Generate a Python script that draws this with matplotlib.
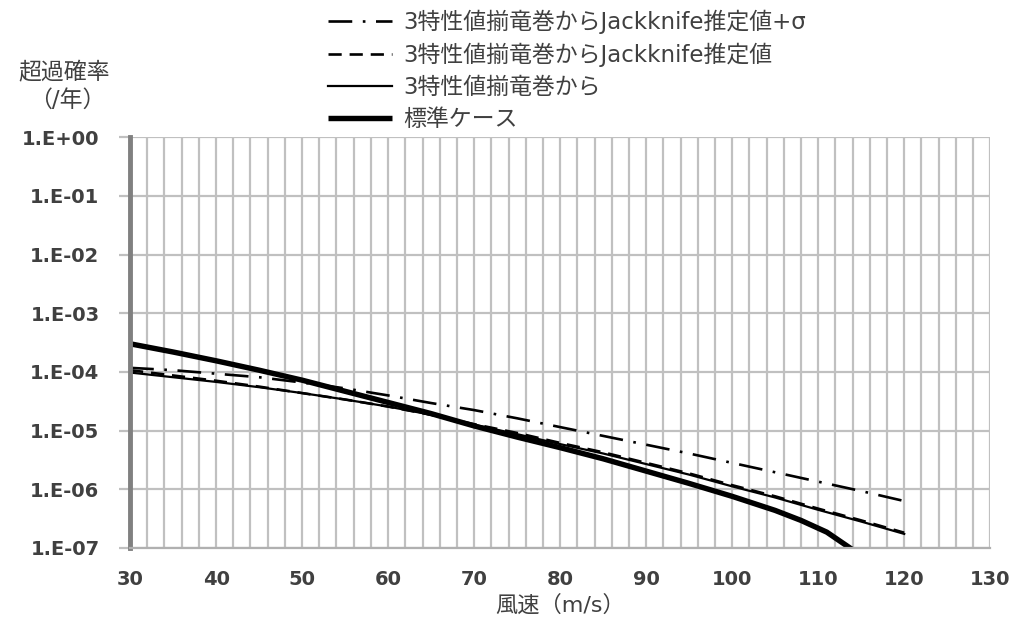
import matplotlib
matplotlib.use("Agg")
import matplotlib.pyplot as plt
import numpy as np

plt.rcParams['font.family'] = ['DejaVu Sans', 'Noto Sans CJK JP']

# wind speed (m/s)
speed_a = [30, 35, 40, 45, 50, 55, 60, 65, 70, 75, 80, 85, 90, 95, 100, 105, 110, 115, 120]
# log10 of exceedance probability
jk_sigma_log = [-3.93, -3.97, -4.03, -4.09, -4.18, -4.28, -4.40, -4.53, -4.65, -4.79,
                -4.94, -5.09, -5.24, -5.39, -5.55, -5.71, -5.87, -6.03, -6.20]
jk_log = [-3.97, -4.06, -4.15, -4.25, -4.36, -4.47, -4.59, -4.73, -4.89, -5.04,
          -5.21, -5.37, -5.55, -5.73, -5.93, -6.12, -6.33, -6.53, -6.74]
three_log = [-4.01, -4.09, -4.17, -4.26, -4.36, -4.47, -4.59, -4.73, -4.90, -5.06,
             -5.23, -5.39, -5.57, -5.75, -5.95, -6.14, -6.35, -6.55, -6.76]
speed_std = [30, 35, 40, 45, 50, 55, 60, 65, 70, 75, 80, 85, 90, 95, 100, 105, 108, 111, 114]
std_log = [-3.52, -3.66, -3.81, -3.97, -4.14, -4.33, -4.52, -4.71, -4.92, -5.11,
           -5.29, -5.48, -5.69, -5.90, -6.12, -6.36, -6.53, -6.73, -7.03]

labels = ["3特性値揃竜巻からJackknife推定値+σ",
          "3特性値揃竜巻からJackknife推定値",
          "3特性値揃竜巻から",
          "標準ケース"]
ytick_vals = [1e0, 1e-1, 1e-2, 1e-3, 1e-4, 1e-5, 1e-6, 1e-7]
ytick_labels = ["1.E+00", "1.E-01", "1.E-02", "1.E-03", "1.E-04", "1.E-05", "1.E-06", "1.E-07"]
xticks = [30, 40, 50, 60, 70, 80, 90, 100, 110, 120, 130]

fig = plt.figure(figsize=(10.24, 6.21), dpi=100)
ax = fig.add_axes([0.127, 0.1176, 0.840, 0.6614])

pw = lambda arr: [10 ** v for v in arr]
l1, = ax.plot(speed_a, pw(jk_sigma_log), color='black', lw=1.9, dashes=(9, 4, 1, 4))
l2, = ax.plot(speed_a, pw(jk_log), color='black', lw=1.9, dashes=(5, 3))
l3, = ax.plot(speed_a, pw(three_log), color='black', lw=1.6)
l4, = ax.plot(speed_std, pw(std_log), color='black', lw=3.9, solid_capstyle='butt')

ax.set_yscale('log')
ax.set_ylim(1e-7, 1)
ax.set_xlim(30, 130)
ax.set_yticks(ytick_vals)
ax.set_yticklabels(ytick_labels)
ax.minorticks_off()
ax.set_xticks(xticks)
ax.set_xticks(np.arange(30, 131, 2), minor=True)
ax.grid(True, which='minor', axis='x', color='#c0c0c0', lw=1.6)
ax.grid(True, which='major', axis='both', color='#c0c0c0', lw=1.6)
ax.set_axisbelow(True)
ax.tick_params(axis='x', which='both', length=0, labelsize=14, colors='#404040', pad=16)
ax.tick_params(axis='y', which='both', length=8, width=1.6, color='#c0c0c0',
               labelsize=14, labelcolor='#404040', pad=14)
for lab in ax.get_xticklabels() + ax.get_yticklabels():
    lab.set_fontweight('bold')
for s in ['top', 'right']:
    ax.spines[s].set_visible(False)
ax.spines['left'].set_color('#808080')
ax.spines['left'].set_linewidth(3.5)
ax.spines['bottom'].set_color('#b0b0b0')
ax.spines['bottom'].set_linewidth(1.6)

ax.set_xlabel("風速（m/s）", fontsize=16, color='#404040', labelpad=4)
fig.text(0.063, 0.884, "超過確率", ha='center', va='center', fontsize=16.5, color='#404040')
fig.text(0.066, 0.839, "（/年）", ha='center', va='center', fontsize=16.5, color='#404040')

fig.legend([l1, l2, l3, l4], labels, loc='upper left', bbox_to_anchor=(0.300, 1.017),
           frameon=False, prop={'size': 16.5}, handlelength=2.8, handletextpad=0.5,
           labelspacing=0.38, labelcolor='#404040')

fig.savefig("out.png", dpi=100)
